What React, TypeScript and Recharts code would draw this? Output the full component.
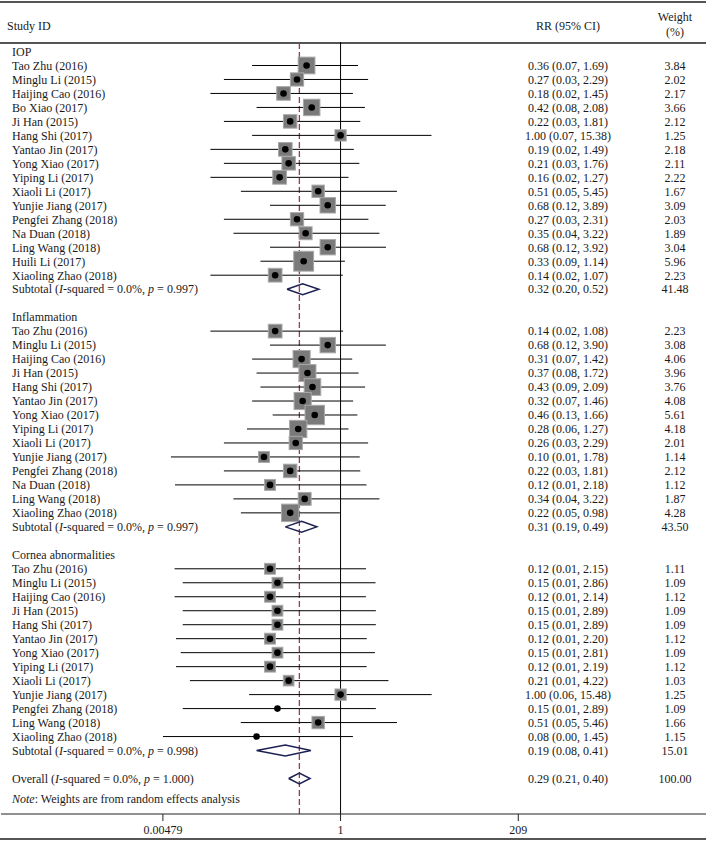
import React from "react";
import { ScatterChart, Scatter, XAxis, YAxis, ReferenceLine } from "recharts";

document.body.style.margin = "0";

const sectionTitles = ["IOP", "Inflammation", "Cornea abnormalities"];

const iopNames = [
  "Tao Zhu (2016)", "Minglu Li (2015)", "Haijing Cao (2016)", "Bo Xiao (2017)",
  "Ji Han (2015)", "Hang Shi (2017)", "Yantao Jin (2017)", "Yong Xiao (2017)",
  "Yiping Li (2017)", "Xiaoli Li (2017)", "Yunjie Jiang (2017)", "Pengfei Zhang (2018)",
  "Na Duan (2018)", "Ling Wang (2018)", "Huili Li (2017)", "Xiaoling Zhao (2018)",
];
const iopRR = [0.36, 0.27, 0.18, 0.42, 0.22, 1.0, 0.19, 0.21, 0.16, 0.51, 0.68, 0.27, 0.35, 0.68, 0.33, 0.14];
const iopLow = [0.07, 0.03, 0.02, 0.08, 0.03, 0.07, 0.02, 0.03, 0.02, 0.05, 0.12, 0.03, 0.04, 0.12, 0.09, 0.02];
const iopHigh = [1.69, 2.29, 1.45, 2.08, 1.81, 15.38, 1.49, 1.76, 1.27, 5.45, 3.89, 2.31, 3.22, 3.92, 1.14, 1.07];
const iopWeight = [3.84, 2.02, 2.17, 3.66, 2.12, 1.25, 2.18, 2.11, 2.22, 1.67, 3.09, 2.03, 1.89, 3.04, 5.96, 2.23];

const inflNames = [
  "Tao Zhu (2016)", "Minglu Li (2015)", "Haijing Cao (2016)", "Ji Han (2015)",
  "Hang Shi (2017)", "Yantao Jin (2017)", "Yong Xiao (2017)", "Yiping Li (2017)",
  "Xiaoli Li (2017)", "Yunjie Jiang (2017)", "Pengfei Zhang (2018)", "Na Duan (2018)",
  "Ling Wang (2018)", "Xiaoling Zhao (2018)",
];
const inflRR = [0.14, 0.68, 0.31, 0.37, 0.43, 0.32, 0.46, 0.28, 0.26, 0.1, 0.22, 0.12, 0.34, 0.22];
const inflLow = [0.02, 0.12, 0.07, 0.08, 0.09, 0.07, 0.13, 0.06, 0.03, 0.0061, 0.03, 0.0069, 0.04, 0.05];
const inflHigh = [1.08, 3.9, 1.42, 1.72, 2.09, 1.46, 1.66, 1.27, 2.29, 1.78, 1.81, 2.18, 3.22, 0.98];
const inflWeight = [2.23, 3.08, 4.06, 3.96, 3.76, 4.08, 5.61, 4.18, 2.01, 1.14, 2.12, 1.12, 1.87, 4.28];

const corneaNames = [
  "Tao Zhu (2016)", "Minglu Li (2015)", "Haijing Cao (2016)", "Ji Han (2015)",
  "Hang Shi (2017)", "Yantao Jin (2017)", "Yong Xiao (2017)", "Yiping Li (2017)",
  "Xiaoli Li (2017)", "Yunjie Jiang (2017)", "Pengfei Zhang (2018)", "Ling Wang (2018)",
  "Xiaoling Zhao (2018)",
];
const corneaRR = [0.12, 0.15, 0.12, 0.15, 0.15, 0.12, 0.15, 0.12, 0.21, 1.0, 0.15, 0.51, 0.08];
const corneaLow = [0.0068, 0.0087, 0.0068, 0.0087, 0.0087, 0.0071, 0.0082, 0.0071, 0.0108, 0.064, 0.0087, 0.0498, 0.0048];
const corneaHigh = [2.15, 2.86, 2.14, 2.89, 2.89, 2.2, 2.81, 2.19, 4.22, 15.48, 2.89, 5.46, 1.45];
const corneaWeight = [1.11, 1.09, 1.12, 1.09, 1.09, 1.12, 1.09, 1.12, 1.03, 1.25, 1.09, 1.66, 1.15];
// two studies show no weight box in the original
const corneaBox = [true, true, true, true, true, true, true, true, true, true, false, true, false];

const subtotalRR = [0.32, 0.31, 0.19];
const subtotalLow = [0.2, 0.19, 0.08];
const subtotalHigh = [0.52, 0.49, 0.41];
const subtotalWeight = [41.48, 43.5, 15.01];
const subtotalP = ["0.997", "0.997", "0.998"];

const overallRR = 0.29;
const overallLow = 0.21;
const overallHigh = 0.4;
const overallWeight = 100.0;
const overallP = "1.000";

const xTicks = [0.00479, 1, 209];

const sections = [
  { names: iopNames, rr: iopRR, low: iopLow, high: iopHigh, weight: iopWeight, box: iopNames.map(() => true) },
  { names: inflNames, rr: inflRR, low: inflLow, high: inflHigh, weight: inflWeight, box: inflNames.map(() => true) },
  { names: corneaNames, rr: corneaRR, low: corneaLow, high: corneaHigh, weight: corneaWeight, box: corneaBox },
];

type Row = {
  row: number;
  kind: "header" | "study" | "subtotal" | "overall" | "note";
  label: string;
  p?: string;
  rr?: number;
  low?: number;
  high?: number;
  weight?: number;
  box?: boolean;
};

const rows: Row[] = [];
let r = 0;
sections.forEach((s, si) => {
  rows.push({ row: r++, kind: "header", label: sectionTitles[si] });
  s.names.forEach((n, i) => {
    rows.push({ row: r++, kind: "study", label: n, rr: s.rr[i], low: s.low[i], high: s.high[i], weight: s.weight[i], box: s.box[i] });
  });
  rows.push({
    row: r++, kind: "subtotal", label: "Subtotal", p: subtotalP[si],
    rr: subtotalRR[si], low: subtotalLow[si], high: subtotalHigh[si], weight: subtotalWeight[si],
  });
  r++;
});
rows.push({ row: r++, kind: "overall", label: "Overall", p: overallP, rr: overallRR, low: overallLow, high: overallHigh, weight: overallWeight });
rows.push({ row: r++, kind: "note", label: "Note" });

const rowMap = new Map(rows.map((d) => [d.row, d]));
const studyRows = rows.filter((d) => d.kind === "study");
const diamondRows = rows.filter((d) => d.kind === "subtotal" || d.kind === "overall");

const DIAMOND_H = 0.39;
const diamondData = (d: Row) => [
  { x: d.low, y: d.row },
  { x: d.rr, y: d.row - DIAMOND_H },
  { x: d.high, y: d.row },
  { x: d.rr, y: d.row + DIAMOND_H },
  { x: d.low, y: d.row },
];

const FONT = "'Liberation Serif', 'Times New Roman', serif";
const TEXT = "#1a1a1a";

const fmtCI = (d: Row) => `${d.rr!.toFixed(2)} (${d.low!.toFixed(2)}, ${d.high!.toFixed(2)})`;

function RowTick(props: any) {
  const { y, payload } = props;
  const d = rowMap.get(payload.value);
  if (!d) return <g />;
  const common = { fontFamily: FONT, fontSize: 12, fill: TEXT, dy: "0.36em" };
  if (d.kind === "note") {
    return (
      <text x={12} y={y + 6} {...common}>
        <tspan fontStyle="italic">Note</tspan>: Weights are from random effects analysis
      </text>
    );
  }
  return (
    <g>
      {d.kind === "subtotal" || d.kind === "overall" ? (
        <text x={12} y={y} {...common}>
          {d.label} (<tspan fontStyle="italic">I</tspan>-squared = 0.0%, <tspan fontStyle="italic">p</tspan> = {d.p})
        </text>
      ) : (
        <text x={12} y={y} {...common}>{d.label}</text>
      )}
      {d.rr !== undefined && (
        <text x={568} y={y} textAnchor="middle" {...common}>{fmtCI(d)}</text>
      )}
      {d.weight !== undefined && (
        <text x={675} y={y} textAnchor="middle" {...common}>{d.weight.toFixed(2)}</text>
      )}
    </g>
  );
}

function StudyMark(props: any) {
  const { cx, cy, payload } = props;
  const side = 4 + 6.5 * Math.sqrt(payload.weight);
  return (
    <g>
      {payload.box && (
        <rect x={cx - side / 2} y={cy - side / 2} width={side} height={side} fill="#7a7a7a" stroke="#a8a8a8" strokeWidth={1} />
      )}
      <circle cx={cx} cy={cy} r={3.3} fill="#000" />
    </g>
  );
}

const noShape = () => <g />;

export default function App() {
  return (
    <div style={{ position: "relative", width: 706, height: 842, background: "#fff", fontFamily: FONT, color: TEXT }}>
      <div style={{ position: "absolute", left: 0, top: 1, width: 706, height: 2, background: "#555" }} />
      <div style={{ position: "absolute", left: 0, top: 42, width: 706, height: 1.5, background: "#555" }} />
      <div style={{ position: "absolute", left: 0, top: 838, width: 706, height: 2, background: "#555" }} />
      <div style={{ position: "absolute", left: 7, top: 19, fontSize: 12 }}>Study ID</div>
      <div style={{ position: "absolute", left: 518, width: 100, top: 19, fontSize: 12, textAlign: "center" }}>RR (95% CI)</div>
      <div style={{ position: "absolute", left: 645, width: 60, top: 10, fontSize: 12, textAlign: "center", lineHeight: "15px" }}>
        Weight
        <br />
        (%)
      </div>
      <div style={{ position: "absolute", left: 0, top: 0 }}>
        <ScatterChart width={706} height={842} margin={{ top: 42, right: 0, bottom: 0, left: 0 }}>
          <XAxis
            type="number"
            dataKey="x"
            scale="log"
            domain={[3.69e-5, 59000]}
            allowDataOverflow
            ticks={xTicks}
            interval={0}
            tickFormatter={(v) => String(v)}
            tick={{ fontFamily: FONT, fontSize: 12, fill: TEXT }}
            tickSize={7}
            tickMargin={4}
            height={28}
            axisLine={{ stroke: "#222", strokeWidth: 1 }}
            tickLine={{ stroke: "#222" }}
          />
          <YAxis
            type="number"
            dataKey="y"
            domain={[-0.68, 54.54]}
            allowDataOverflow
            reversed
            width={1}
            ticks={rows.map((d) => d.row)}
            interval={0}
            axisLine={false}
            tickLine={false}
            tick={(p: any) => <RowTick {...p} />}
          />
          <ReferenceLine x={1} stroke="#000" strokeWidth={1} />
          <ReferenceLine x={overallRR} stroke="#9e3a4e" strokeWidth={1.3} strokeDasharray="6 3" />
          {studyRows.map((d) => (
            <ReferenceLine
              key={`ci-${d.row}`}
              segment={[{ x: d.low, y: d.row }, { x: d.high, y: d.row }]}
              stroke="#000"
              strokeWidth={1}
            />
          ))}
          <Scatter
            data={studyRows.map((d) => ({ x: d.rr, y: d.row, weight: d.weight, box: d.box }))}
            shape={<StudyMark />}
            isAnimationActive={false}
          />
          {diamondRows.map((d) => (
            <Scatter
              key={`dia-${d.row}`}
              data={diamondData(d)}
              shape={noShape}
              line={{ stroke: "#1c2152", strokeWidth: 1.5 }}
              lineType="joint"
              isAnimationActive={false}
            />
          ))}
        </ScatterChart>
      </div>
    </div>
  );
}
